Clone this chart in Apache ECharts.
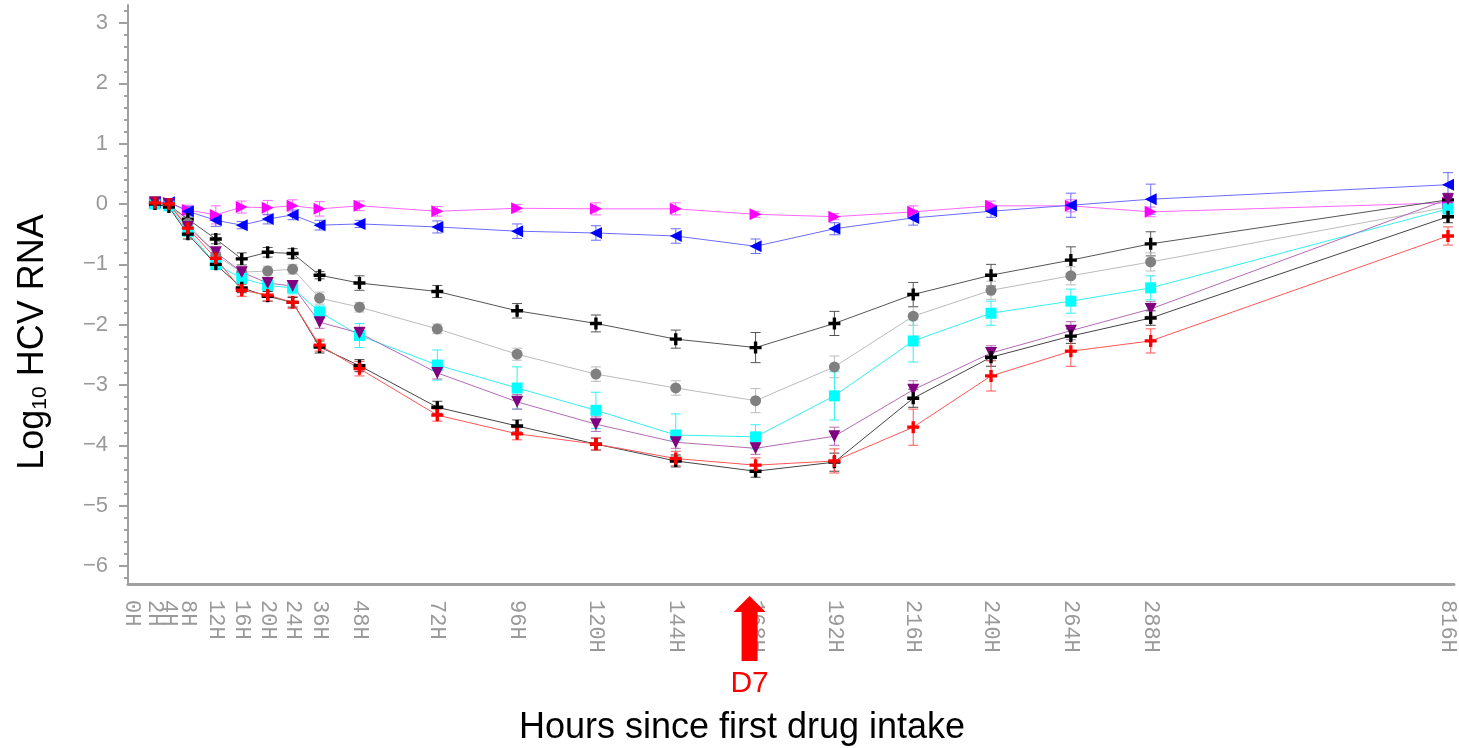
<!DOCTYPE html>
<html lang="en">
<head>
    <meta charset="UTF-8">
    <script src="https://cdn.jsdelivr.net/npm/echarts@6/dist/echarts.min.js"></script>
    <title>HCV RNA</title>
    <style>
        body { margin: 0; background: #fff; }
        #chart { width: 1459px; height: 748px; }
    </style>
</head>
<body>
<div id="chart"></div>
<script type="text/javascript">
    // x axis: hour ticks and where they sit along the axis (the original axis is not linear)
    var hourTicks = [0, 2, 4, 8, 12, 16, 20, 24, 36, 48, 72, 96, 120, 144, 168, 192, 216, 240, 264, 288, 816];
    var tickSlots = [4, 27, 41, 60, 88, 114, 140, 165, 192, 232, 310, 390, 469, 549, 629, 708, 787, 865, 945, 1025, 1323];

    // sampling times of the curves
    var hours = [2, 4, 8, 12, 16, 20, 24, 36, 48, 72, 96, 120, 144, 168, 192, 216, 240, 264, 288, 816];

    var magenta = [0.02, 0.02, -0.1, -0.18, -0.05, -0.06, -0.03, -0.08, -0.03, -0.12, -0.07, -0.08, -0.08, -0.17, -0.21, -0.13, -0.03, -0.03, -0.13, 0.02];
    var magentaErr = [0.05, 0.05, 0.08, 0.15, 0.1, 0.12, 0.1, 0.12, 0.08, 0.08, 0.06, 0.1, 0.1, 0.05, 0.05, 0.1, 0.08, 0.1, 0.08, 0.08];
    var blue = [0.03, 0.03, -0.12, -0.27, -0.35, -0.25, -0.18, -0.35, -0.33, -0.38, -0.45, -0.48, -0.53, -0.7, -0.41, -0.23, -0.12, -0.02, 0.08, 0.32];
    var blueErr = [0.05, 0.05, 0.08, 0.1, 0.06, 0.08, 0.08, 0.08, 0.06, 0.1, 0.12, 0.12, 0.12, 0.12, 0.1, 0.12, 0.1, 0.2, 0.25, 0.2];
    var blackA = [0, -0.02, -0.25, -0.58, -0.91, -0.8, -0.82, -1.18, -1.31, -1.45, -1.77, -1.98, -2.24, -2.38, -1.98, -1.5, -1.18, -0.93, -0.66, 0.07];
    var blackAErr = [0.05, 0.05, 0.08, 0.08, 0.1, 0.08, 0.08, 0.06, 0.12, 0.1, 0.12, 0.14, 0.15, 0.25, 0.2, 0.2, 0.18, 0.22, 0.2, 0.1];
    var gray = [0.02, 0, -0.32, -0.85, -1.13, -1.11, -1.08, -1.56, -1.71, -2.07, -2.49, -2.82, -3.05, -3.26, -2.7, -1.86, -1.43, -1.19, -0.96, -0.05];
    var grayErr = [0.05, 0.05, 0.08, 0.08, 0.08, 0.08, 0.08, 0.1, 0.08, 0.08, 0.1, 0.12, 0.12, 0.2, 0.18, 0.15, 0.15, 0.15, 0.15, 0.1];
    var cyan = [0, -0.03, -0.45, -1.0, -1.23, -1.35, -1.39, -1.79, -2.18, -2.67, -3.05, -3.42, -3.83, -3.86, -3.18, -2.27, -1.81, -1.61, -1.39, -0.08];
    var cyanErr = [0.05, 0.05, 0.08, 0.08, 0.1, 0.1, 0.1, 0.1, 0.2, 0.25, 0.35, 0.3, 0.35, 0.2, 0.4, 0.35, 0.2, 0.2, 0.2, 0.1];
    var purple = [0.03, 0, -0.38, -0.8, -1.13, -1.31, -1.36, -1.96, -2.14, -2.8, -3.28, -3.65, -3.95, -4.05, -3.85, -3.08, -2.47, -2.1, -1.74, 0.08];
    var purpleErr = [0.05, 0.05, 0.08, 0.08, 0.08, 0.08, 0.08, 0.1, 0.1, 0.1, 0.12, 0.12, 0.1, 0.1, 0.15, 0.15, 0.12, 0.15, 0.12, 0.1];
    var blackB = [0, -0.05, -0.5, -1.0, -1.39, -1.53, -1.63, -2.37, -2.68, -3.37, -3.68, -3.98, -4.26, -4.43, -4.28, -3.22, -2.54, -2.19, -1.89, -0.21];
    var blackBErr = [0.05, 0.05, 0.08, 0.08, 0.08, 0.08, 0.08, 0.1, 0.1, 0.1, 0.1, 0.1, 0.1, 0.1, 0.15, 0.15, 0.15, 0.12, 0.12, 0.1];
    var red = [0.02, 0, -0.4, -0.9, -1.43, -1.51, -1.63, -2.34, -2.73, -3.5, -3.81, -3.98, -4.22, -4.33, -4.26, -3.7, -2.85, -2.44, -2.27, -0.53];
    var redErr = [0.05, 0.05, 0.1, 0.1, 0.1, 0.1, 0.1, 0.1, 0.12, 0.1, 0.1, 0.1, 0.12, 0.12, 0.2, 0.3, 0.25, 0.25, 0.2, 0.15];

    var yTicks = [-6, -5, -4, -3, -2, -1, 0, 1, 2, 3];

    function slotOf(h) {
        return tickSlots[hourTicks.indexOf(h)];
    }

    // minor ticks every 0.2
    var minorTicks = [];
    for (var k = -31; k <= 16; k++) {
        if (k % 5 !== 0) minorTicks.push(Math.round(k * 20) / 100);
    }

    var plusPath = 'path://M3.6,0H6.4V3.6H10V6.4H6.4V10H3.6V6.4H0V3.6H3.6Z';

    var groups = [
        {name: 'magenta', v: magenta, e: magentaErr, mark: '#ff00ff', line: '#ff66ff', symbol: 'triangle', rot: -90, size: 12},
        {name: 'blue', v: blue, e: blueErr, mark: '#0000ff', line: '#6b6bff', symbol: 'triangle', rot: 90, size: 12},
        {name: 'blackA', v: blackA, e: blackAErr, mark: '#000000', line: '#555555', symbol: plusPath, rot: 0, size: 12},
        {name: 'gray', v: gray, e: grayErr, mark: '#808080', line: '#bbbbbb', symbol: 'circle', rot: 0, size: 11},
        {name: 'cyan', v: cyan, e: cyanErr, mark: '#00ffff', line: '#33f0f0', symbol: 'rect', rot: 0, size: 11},
        {name: 'purple', v: purple, e: purpleErr, mark: '#800080', line: '#b36bb3', symbol: 'triangle', rot: 180, size: 12},
        {name: 'blackB', v: blackB, e: blackBErr, mark: '#000000', line: '#444444', symbol: plusPath, rot: 0, size: 12},
        {name: 'red', v: red, e: redErr, mark: '#ff0000', line: '#ff5555', symbol: plusPath, rot: 0, size: 12}
    ];

    var series = [];
    groups.forEach(function (g) {
        series.push({
            name: g.name + 'Err',
            type: 'custom',
            z: 1,
            silent: true,
            encode: {x: 0, y: [1, 2]},
            data: hours.map(function (h, i) {
                return [slotOf(h), g.v[i] - g.e[i], g.v[i] + g.e[i]];
            }),
            renderItem: function (params, api) {
                var lo = api.coord([api.value(0), api.value(1)]);
                var hi = api.coord([api.value(0), api.value(2)]);
                var c = 5;
                var st = {stroke: g.line, lineWidth: 1};
                return {
                    type: 'group',
                    children: [
                        {type: 'line', shape: {x1: lo[0], y1: lo[1], x2: hi[0], y2: hi[1]}, style: st},
                        {type: 'line', shape: {x1: lo[0] - c, y1: lo[1], x2: lo[0] + c, y2: lo[1]}, style: st},
                        {type: 'line', shape: {x1: hi[0] - c, y1: hi[1], x2: hi[0] + c, y2: hi[1]}, style: st}
                    ]
                };
            }
        });
    });
    groups.forEach(function (g) {
        series.push({
            name: g.name,
            type: 'line',
            z: 2,
            data: hours.map(function (h, i) { return [slotOf(h), g.v[i]]; }),
            symbol: g.symbol,
            symbolRotate: g.rot,
            symbolSize: g.size,
            showSymbol: true,
            lineStyle: {color: g.line, width: 1},
            itemStyle: {color: g.mark},
            emphasis: {disabled: true},
            animation: false
        });
    });

    var myChart = echarts.init(document.getElementById('chart'));
    var option = {
        animation: false,
        grid: {left: 128, right: 2, top: 5, bottom: 164},
        xAxis: {
            type: 'value',
            min: 0,
            max: 1329,
            splitLine: {show: false},
            axisLine: {onZero: false, lineStyle: {color: '#a0a0a0', width: 3}},
            axisTick: {show: false},
            axisLabel: {
                customValues: tickSlots,
                rotate: -90,
                margin: 16,
                color: '#999999',
                fontFamily: 'Liberation Mono',
                fontSize: 22,
                formatter: function (v) {
                    var i = tickSlots.indexOf(v);
                    return i < 0 ? '' : hourTicks[i] + 'H';
                }
            }
        },
        yAxis: [
            {
                type: 'value',
                min: -6.3,
                max: 3.3,
                position: 'left',
                splitLine: {show: false},
                axisLine: {show: true, onZero: false, lineStyle: {color: '#a0a0a0', width: 2}},
                axisTick: {show: true, customValues: yTicks, length: 9, lineStyle: {color: '#a0a0a0', width: 2}},
                axisLabel: {
                    customValues: yTicks,
                    margin: 20,
                    color: '#999999',
                    fontFamily: 'Liberation Sans',
                    fontSize: 22,
                    formatter: function (v) {
                        return v < 0 ? '\u2212' + Math.abs(v) : String(v);
                    }
                }
            },
            {
                type: 'value',
                min: -6.3,
                max: 3.3,
                position: 'left',
                offset: 0,
                splitLine: {show: false},
                axisLine: {show: false},
                axisTick: {show: true, customValues: minorTicks, length: 4, lineStyle: {color: '#a0a0a0', width: 2}},
                axisLabel: {show: false}
            }
        ],
        series: series
    };
    myChart.setOption(option);

    // D7 arrow under the 168H tick
    var ax = myChart.convertToPixel({xAxisIndex: 0}, slotOf(168)) - 6;
    myChart.setOption({
        graphic: [
            {
                type: 'text',
                x: 33, y: 342,
                rotation: Math.PI / 2,
                style: {
                    text: '{a|Log}{b|10}{a| HCV RNA}',
                    align: 'center',
                    verticalAlign: 'middle',
                    fill: '#000',
                    rich: {
                        a: {fontSize: 36, fontFamily: 'Liberation Sans', fill: '#000'},
                        b: {fontSize: 21, fontFamily: 'Liberation Sans', fill: '#000', verticalAlign: 'bottom'}
                    }
                }
            },
            {
                type: 'text',
                x: 742, y: 728,
                style: {
                    text: 'Hours since first drug intake',
                    align: 'center',
                    verticalAlign: 'middle',
                    fontSize: 36,
                    fontFamily: 'Liberation Sans',
                    fill: '#000'
                }
            },
            {
                type: 'polygon',
                z: 10,
                shape: {
                    points: [[ax, 596], [ax + 16, 612], [ax + 8, 612], [ax + 8, 661],
                        [ax - 8, 661], [ax - 8, 612], [ax - 16, 612]]
                },
                style: {fill: '#ff0000'}
            },
            {
                type: 'text',
                x: ax, y: 684,
                style: {
                    text: 'D7',
                    align: 'center',
                    verticalAlign: 'middle',
                    fontSize: 30,
                    fontFamily: 'Liberation Sans',
                    fill: '#ff0000'
                }
            }
        ]
    });
</script>
</body>
</html>
